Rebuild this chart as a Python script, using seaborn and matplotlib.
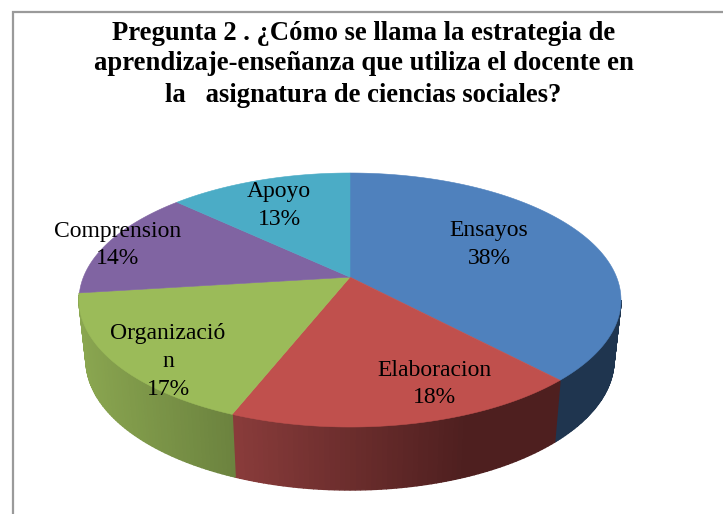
import numpy as np
import matplotlib
matplotlib.use("Agg")
import matplotlib.pyplot as plt
import matplotlib.colors as mc
import seaborn as sns

categories = ["Ensayos", "Elaboracion", "Organizació\nn", "Comprension", "Apoyo"]
values = [38, 18, 17, 14, 13]
title_lines = ["Pregunta 2 . ¿Cómo se llama la estrategia de",
               "aprendizaje-enseñanza que utiliza el docente en",
               "la   asignatura de ciencias sociales?"]
top_colors = ["#4F81BD", "#C0504D", "#9BBB59", "#8064A2", "#4BACC6"]
wall_left = ["#1F354F", "#8A3C3B", "#8AA650"]
wall_right = ["#1F354F", "#4E1F1F", "#6C833F"]
label_xy = [(489, 244.5), (434, 384), (168, 361.5), (118, 245), (279, 205.5)]
title_y = [34, 64, 96]

sns.set_theme(style="white")
plt.rcParams["font.family"] = ["Liberation Serif", "DejaVu Serif"]

TOP = (350, 300, 271, 127)
BOT = (350, 360, 264, 130)
A = 0.18  # perspective shift of the pie centre
FRONT_START = 0.279  # where the top rim turns towards the viewer


def project(frac, ell):
    th = 2 * np.pi * np.asarray(frac)
    u, v = np.sin(th), np.cos(th)
    d = 1 + A * v
    yy = (v + A) / d
    xx = u * np.sqrt(1 - A * A) / d
    cx, cy, rx, ry = ell
    return cx + rx * xx, cy - ry * yy


fig = plt.figure(figsize=(7.23, 5.14), dpi=100, facecolor="white")
ax = fig.add_axes([0, 0, 1, 1])
ax.set_xlim(0, 723)
ax.set_ylim(514, 0)
ax.axis("off")

# chart frame (runs off the right and bottom edges)
ax.plot([12.5, 12.5, 730], [520, 11.5, 11.5], color="#9A9A9A", lw=1.6, zorder=1,
        solid_joinstyle="miter")

edges = np.concatenate([[0], np.cumsum(values)]) / np.sum(values)

# side walls of the front slices only, strip by strip with a horizontal shade
for i in range(len(wall_left)):
    fr = np.linspace(max(edges[i], FRONT_START), edges[i + 1], 70)
    xt, yt = project(fr, TOP)
    xb, yb = project(fr, BOT)
    xmin, xmax = xt.min(), xt.max()
    cl = np.array(mc.to_rgb(wall_left[i]))
    cr = np.array(mc.to_rgb(wall_right[i]))
    for j in range(len(fr) - 1):
        if i == 1:
            t = min(1.0, (xt[j] - xmin) / (0.72 * (xmax - xmin)))
        else:
            t = (xt[j] - xmin) / max(xmax - xmin, 1e-6)
        c = cl + (cr - cl) * t
        ax.fill([xt[j], xt[j + 1], xb[j + 1], xb[j]],
                [yt[j], yt[j + 1], yb[j + 1], yb[j]],
                color=c, lw=1.0, zorder=2 + 0.01 * i)

# top faces
apex_x, apex_y = TOP[0], TOP[1] - TOP[3] * A
for i in range(len(values)):
    fr = np.linspace(edges[i], edges[i + 1], 200)
    x, y = project(fr, TOP)
    ax.fill(np.r_[apex_x, x], np.r_[apex_y, y], color=top_colors[i], lw=0.4, zorder=3)

# data labels
for cat, val, (lx, ly) in zip(categories, values, label_xy):
    ax.text(lx, ly, f"{cat}\n{val}%", ha="center", va="center", fontsize=17,
            color="black", linespacing=1.42, zorder=5)

# title
for line, ty in zip(title_lines, title_y):
    ax.text(363.5, ty, line, ha="center", va="center", fontsize=19.2,
            fontweight="bold", color="black", zorder=5)

fig.savefig("out.png", dpi=100)
